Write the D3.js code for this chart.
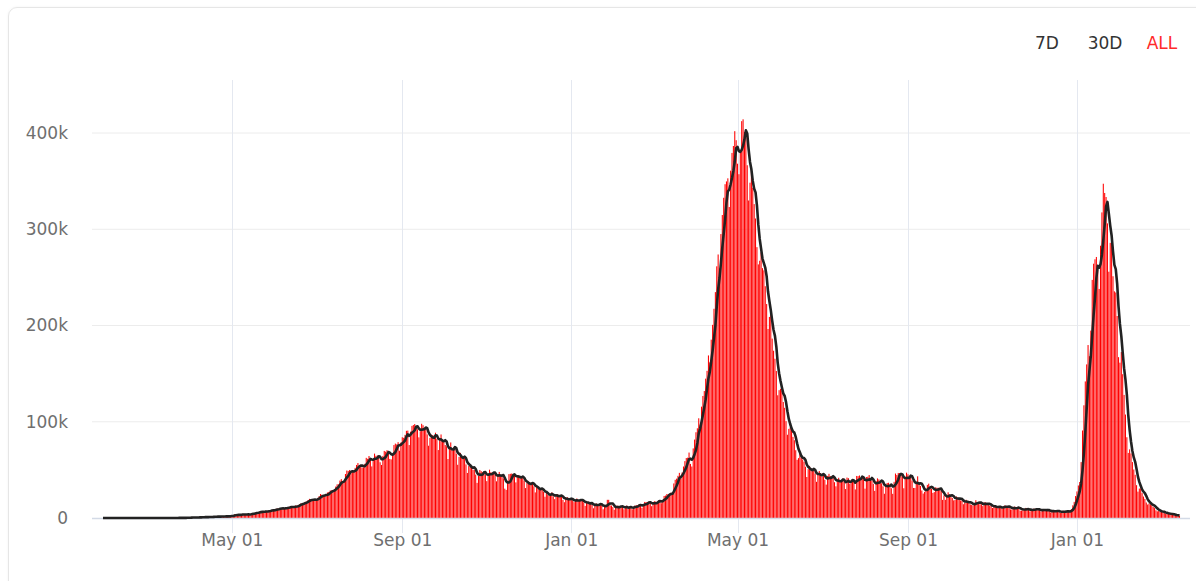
<!DOCTYPE html>
<html>
<head>
<meta charset="utf-8">
<script src="https://cdn.jsdelivr.net/npm/d3@7"></script>
<style>
body{margin:0;background:#fff;font-family:"DejaVu Sans",Verdana,sans-serif;overflow:hidden;}
.card{position:absolute;left:8px;top:7px;width:1210px;height:600px;border:1px solid #e6e6e6;border-radius:9px;box-shadow:0 0 3px rgba(0,0,0,0.05);}
svg{position:absolute;left:0;top:0;}
</style>
</head>
<body>
<div class="card"></div>
<svg id="chart" width="1196" height="581"></svg>
<script>
// daily new cases, in thousands; first value sits on 2020-01-29
var startDate = "2020-01-29";
var daily2020 = [
  0.001,0,
  0,0.001,0.001,0,0,0,0,0,0,0, 0,0,0,0,0,0,0,0,0,0, 0,0,0,0,0,0,0,0,0,
  0,0.001,0.001,0.022,0.001,0.001,0.003,0.005,0.004,0.007, 0.011,0.010,0.014,0.019,0.025,0.012,0.023,0.022,0.040,0.049, 0.072,0.096,0.071,0.100,0.088,0.086,0.150,0.146,0.104,0.227, 0.309,
  0.424,0.486,0.560,0.579,0.609,0.484,0.573,0.565,0.813,0.871, 0.854,0.758,1.243,1.031,0.886,1.061,0.922,1.371,1.580,1.239, 1.537,1.292,1.667,1.408,1.835,1.607,1.568,1.902,1.705,1.801,
  2.4,2.3,2.5,3.9,2.9,3.6,3.3,3.3,3.3,4.3, 3.6,3.5,3.7,3.9,3.8,4.9,5.0,4.6,5.6,5.6, 6.1,6.6,6.8,6.7,6.5,6.4,7.2,7.3,8.0,7.9, 8.4,
  8.2,8.2,9.6,9.8,9.9,10.4,9.9,9.9,9.4,11.0, 11.2,11.5,11.9,11.9,11.0,10.7,13.0,12.9,13.6,14.5, 15.4,14.8,15.6,16.9,17.0,18.6,19.9,19.5,18.5,18.7,
  19.1,19.1,20.9,22.8,24.9,24.2,22.3,22.8,24.9,26.5, 27.1,28.6,28.7,28.5,29.4,32.7,35.0,34.9,38.9,40.4, 37.1,37.7,45.7,49.3,48.9,49.9,46.5,47.7,48.5,52.1, 55.1,
  57.1,54.7,52.9,52.5,52.5,56.3,62.5,61.5,64.4,62.1, 53.6,60.9,66.9,64.6,65.0,63.5,57.9,55.1,64.5,69.7, 68.9,70.5,69.2,61.4,60.9,67.2,75.8,77.3,76.5,78.8, 69.9,
  78.4,83.9,83.3,86.4,90.6,90.8,75.8,89.7,95.7,96.6, 97.6,94.4,92.1,83.8,90.1,97.9,96.4,93.3,92.6,86.9, 75.1,83.3,86.5,86.1,85.4,88.6,82.2,70.6,80.5,86.8,
  81.5,79.5,75.8,74.4,61.3,72.0,78.5,70.5,73.3,74.4, 66.7,55.3,63.5,67.7,63.4,62.2,62.2,55.7,46.8,54.0, 55.8,53.4,50.1,50.1,45.1,36.5,43.9,49.9,48.6,47.6, 46.9,
  45.2,38.3,46.3,50.2,47.6,46.2,45.7,45.9,38.1,44.3, 47.9,44.9,44.8,41.1,30.5,29.2,38.6,45.6,45.9,46.2, 45.2,44.1,37.0,44.4,44.5,43.1,41.3,41.8,38.8,31.1,
  36.6,35.7,36.6,36.6,36.6,32.9,26.6,32.1,31.5,29.4, 30.0,30.3,27.1,22.1,26.4,24.0,22.9,25.2,26.6,22.3, 19.6,23.9,24.7,23.1,23.1,22.3,18.7,16.4,20.5,21.8, 20.0
];
var daily2021 = [
  19.1,19.1,18.2,16.5,18.1,20.3,18.1,18.2,18.6,18.6, 16.3,12.6,15.9,16.9,15.6,15.1,13.8,10.1,13.8,15.2, 14.5,14.3,14.3,13.2,9.1,12.7,11.7,18.9,18.9,13.1, 13.0,
  11.4,8.6,11.0,12.9,12.4,11.7,12.1,11.8,9.1,11.0, 12.9,9.3,12.1,11.6,9.1,11.6,12.9,13.2,13.2,14.3, 14.3,10.6,13.7,16.7,16.6,16.5,16.8,15.5,
  12.3,14.9,17.4,17.0,16.8,18.3,18.7,15.4,17.9,22.9, 23.3,24.9,24.9,25.3,26.3,24.5,35.9,39.7,40.9,43.8, 46.9,40.7,47.3,53.5,59.1,62.3,62.7,68.0,56.2,53.5, 72.3,
  81.5,89.1,93.2,103.6,96.9,115.7,126.8,131.9,144.8,152.9, 168.9,161.7,185.3,200.7,217.4,234.7,261.5,273.8,259.2,295.0, 314.8,332.7,346.8,349.7,352.9,323.1,360.9,379.3,386.5,401.9,
  392.5,368.1,357.2,382.3,412.3,414.2,401.1,403.7,366.5,329.9, 348.4,362.7,343.1,326.1,311.2,281.4,263.5,267.3,276.1,259.6, 257.3,240.8,222.3,196.4,208.9,211.3,186.4,173.8,165.5,152.7, 127.5,
  132.8,134.2,132.4,120.5,114.5,100.6,86.5,92.6,94.1,91.7, 84.3,80.8,70.4,60.5,62.2,67.2,62.5,60.8,58.4,53.3, 42.6,50.8,54.1,51.7,48.7,50.0,46.1,37.6,45.9,48.8,
  46.6,43.1,44.1,39.8,34.7,43.7,45.9,43.4,42.8,41.5, 37.2,32.9,40.0,41.8,38.9,38.1,41.2,38.2,30.1,42.0, 41.4,35.3,39.1,39.7,39.4,29.7,43.7,43.5,44.2,41.6, 41.8,
  40.1,30.5,42.6,42.9,44.6,38.6,39.1,35.5,28.2,38.4, 41.2,40.1,38.7,36.1,32.9,25.2,35.2,36.4,36.6,34.5, 30.9,25.1,37.6,46.2,44.7,46.8,46.7,45.1,42.9,30.9, 41.9,
  47.1,45.4,42.8,42.6,38.9,31.2,31.2,37.9,43.3,34.9, 33.4,28.6,25.4,27.2,30.6,34.4,35.7,30.8,30.3,26.1, 26.9,31.9,31.4,31.4,29.6,28.3,18.8,23.5,18.9,23.5,
  26.7,24.4,22.8,20.8,18.3,18.8,22.4,21.3,19.7,18.2, 18.1,14.3,15.8,18.9,16.9,15.9,14.1,13.6,13.1,14.6, 18.5,16.3,16.3,14.3,14.3,12.4,16.2,16.2,14.3,14.3, 12.8,
  12.5,10.4,11.9,12.9,10.9,10.9,11.5,11.5,10.1,11.5, 13.1,11.9,11.9,11.3,8.9,8.9,10.2,11.9,11.1,10.3, 10.5,7.6,7.6,9.3,9.1,10.5,8.8,8.3,6.9,8.9,
  8.9,9.8,9.2,8.6,8.9,8.3,6.8,8.4,9.4,8.5, 7.9,7.8,7.3,5.8,6.9,7.9,7.4,7.1,7.1,6.6, 5.3,6.3,7.5,6.7,7.2,6.9,6.5,6.4,9.2,13.2, 16.8
];
var daily2022 = [
  22.8,27.6,33.8,37.4,58.1,90.9,117.1,141.9,159.6,179.7, 168.1,194.7,247.4,264.2,268.8,271.2,258.1,238.0,282.9,317.5, 347.3,337.7,333.5,306.1,255.9,285.9,286.4,251.2,235.5,234.3, 209.9,
  167.1,161.4,172.4,149.4,127.9,107.5,83.9,67.6,71.3,67.1, 58.1,50.4,44.9,34.1,27.4,30.6,30.8,25.9,22.3,19.9, 16.1,14.0,15.1,14.1,13.2,11.5,10.3,8.0,
  6.9,7.6,6.6,6.6,5.9,5.5,4.4,4.6,4.6,4.2, 4.2,3.6,3.1,2.5,2.6,2.9,2.5
];
var yTicks = [0, 100, 200, 300, 400];
var xTicks = ["2020-05-01", "2020-09-01", "2021-01-01", "2021-05-01", "2021-09-01", "2022-01-01"];
var rangeButtons = ["7D", "30D", "ALL"];
var avgWindow = 5;

var svg = d3.select("#chart");
var parse = d3.utcParse("%Y-%m-%d");
var t0 = parse(startDate);

var values = daily2020.concat(daily2021, daily2022);
var data = values.map(function(v, i){
    var lo = Math.max(0, i - avgWindow + 1);
    return {date: d3.utcDay.offset(t0, i), cases: v, avg: d3.mean(values.slice(lo, i + 1))};
});

//scales
var x = d3.scaleUtc()
    .domain([t0, data[data.length - 1].date])
    .range([103, 1179.5]);
var y = d3.scaleLinear()
    .domain([0, 400])
    .range([518, 133]);
var plotLeft = 92, plotRight = 1190, plotTop = 80, plotBottom = 533;

//grid
svg.append("g")
    .selectAll("line")
    .data(yTicks.filter(d => d > 0))
    .enter().append("line")
    .attr("x1", plotLeft).attr("x2", plotRight)
    .attr("y1", d => y(d)).attr("y2", d => y(d))
    .attr("stroke", "#ececec").attr("stroke-width", 1);
svg.append("g")
    .selectAll("line")
    .data(xTicks.map(parse))
    .enter().append("line")
    .attr("x1", d => Math.round(x(d)) + 0.5).attr("x2", d => Math.round(x(d)) + 0.5)
    .attr("y1", plotTop).attr("y2", plotBottom)
    .attr("stroke", "#e4e8f0").attr("stroke-width", 1);

//axes
var yAxis = d3.axisLeft(y).tickValues(yTicks).tickSize(0).tickPadding(0)
    .tickFormat(d => d === 0 ? "0" : d + "k");
svg.append("g")
    .attr("transform", "translate(68,0)")
    .call(yAxis)
    .call(g => g.select(".domain").remove())
    .selectAll("text")
    .attr("fill", "#6f6f6f")
    .style("font-size", "17px")
    .style("font-family", "'DejaVu Sans', Verdana, sans-serif");

var xAxis = d3.axisBottom(x).tickValues(xTicks.map(parse)).tickSize(0).tickPadding(0)
    .tickFormat(d3.utcFormat("%b %d"));
svg.append("g")
    .attr("transform", "translate(0,534)")
    .call(xAxis)
    .call(g => g.select(".domain").remove())
    .selectAll("text")
    .attr("fill", "#6f6f6f")
    .style("font-size", "17px")
    .style("font-family", "'DejaVu Sans', Verdana, sans-serif");

//bars
var dayW = x(d3.utcDay.offset(t0, 1)) - x(t0);
svg.append("g")
    .selectAll("rect")
    .data(data)
    .enter().append("rect")
    .attr("x", d => x(d.date) - dayW * 0.38)
    .attr("width", dayW * 0.76)
    .attr("y", d => y(d.cases))
    .attr("height", d => y(0) - y(d.cases))
    .attr("fill", "#ff0000");

//zero line
svg.append("line")
    .attr("x1", plotLeft).attr("x2", plotRight)
    .attr("y1", y(0) + 0.5).attr("y2", y(0) + 0.5)
    .attr("stroke", "#d3dae6").attr("stroke-width", 1.5);

//average line
var line = d3.line()
    .x(d => x(d.date))
    .y(d => y(d.avg));
svg.append("path")
    .datum(data)
    .attr("d", line)
    .attr("fill", "none")
    .attr("stroke", "#222")
    .attr("stroke-width", 2.6)
    .attr("stroke-linejoin", "round");

//range buttons
var btnX = [1047, 1105, 1162];
svg.append("g")
    .selectAll("text")
    .data(rangeButtons)
    .enter().append("text")
    .attr("x", (d, i) => btnX[i])
    .attr("y", 49)
    .attr("text-anchor", "middle")
    .style("font-size", "17px")
    .style("font-family", "'DejaVu Sans', Verdana, sans-serif")
    .attr("fill", d => d === "ALL" ? "#ff2a2a" : "#333")
    .text(d => d);
</script>
</body>
</html>
